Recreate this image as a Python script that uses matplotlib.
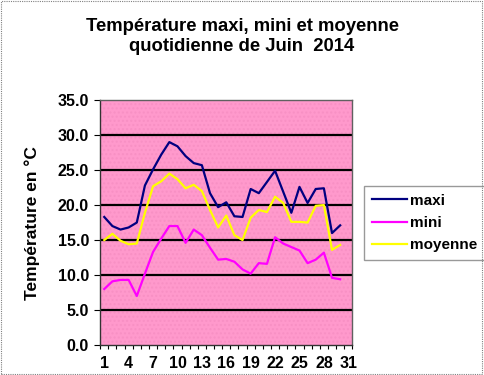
import matplotlib

matplotlib.use("Agg")
import matplotlib.pyplot as plt
from matplotlib.patches import Rectangle
from matplotlib.ticker import FixedLocator

plt.rcParams["font.family"] = ["Liberation Sans", "DejaVu Sans"]

# daily values, June 2014
days = list(range(1, 31))
maxi = [18.3, 17.0, 16.5, 16.8, 17.5, 22.8, 25.1, 27.2, 29.0, 28.4,
        27.0, 26.0, 25.7, 21.7, 19.7, 20.4, 18.4, 18.3, 22.3, 21.7,
        23.3, 24.9, 21.9, 18.9, 22.6, 20.3, 22.3, 22.4, 16.0, 17.1]
mini = [8.0, 9.1, 9.3, 9.3, 7.0, 10.2, 13.3, 15.2, 17.0, 17.0,
        14.6, 16.5, 15.7, 13.9, 12.2, 12.3, 11.9, 10.8, 10.2, 11.7,
        11.6, 15.4, 14.5, 14.0, 13.5, 11.7, 12.2, 13.2, 9.6, 9.4]
moyenne = [15.0, 15.9, 14.9, 14.4, 14.5, 18.9, 22.7, 23.4, 24.5, 23.7,
           22.4, 22.9, 22.0, 19.3, 16.8, 18.5, 15.7, 15.0, 18.2, 19.3,
           19.0, 21.2, 20.3, 17.6, 17.6, 17.5, 19.9, 20.0, 13.6, 14.3]
x_labels = list(range(1, 32, 3))
y_ticks = [0, 5, 10, 15, 20, 25, 30, 35]

fig = plt.figure(figsize=(4.84, 3.75), dpi=100)
ax = fig.add_axes([0.207, 0.08, 0.521, 0.653])
ax.set_facecolor("#FF99CC")
# very faint dotted texture of the plot area
ax.add_patch(Rectangle((0, 0), 1, 1, transform=ax.transAxes, fill=False,
                       hatch="....", edgecolor="#F890C4", lw=0, zorder=0.5))

# horizontal grid lines in black
for v in y_ticks[1:-1]:
    ax.axhline(v, color="black", lw=1.6, zorder=1)

ax.plot(days, maxi, color="#000080", lw=1.6, label="maxi", zorder=3)
ax.plot(days, mini, color="#FF00FF", lw=1.6, label="mini", zorder=3)
ax.plot(days, moyenne, color="#FFFF00", lw=1.6, label="moyenne", zorder=3)

ax.set_xlim(0.5, 31.5)
ax.set_ylim(0, 35)
ax.set_yticks(y_ticks)
ax.set_yticklabels([f"{v:.1f}" for v in y_ticks])
ax.set_xticks(x_labels)
ax.set_xticklabels([str(v) for v in x_labels])
ax.xaxis.set_minor_locator(FixedLocator([i + 0.5 for i in range(0, 32)]))
ax.tick_params(axis="x", which="major", length=0, pad=8)
ax.tick_params(axis="x", which="minor", length=3, width=0.8, direction="out")
ax.tick_params(axis="y", length=4, width=0.8, direction="out", pad=4)
for lab in ax.get_xticklabels() + ax.get_yticklabels():
    lab.set_fontweight("bold")
    lab.set_fontsize(11.5)

for side in ["left", "bottom"]:
    ax.spines[side].set_color("#333333")
    ax.spines[side].set_linewidth(1.0)
for side in ["top", "right"]:
    ax.spines[side].set_color("#606060")
    ax.spines[side].set_linewidth(1.0)

ax.set_ylabel("Température en °C", fontsize=12.5, fontweight="bold", labelpad=13)

fig.text(0.5, 0.902, "Température maxi, mini et moyenne\nquotidienne de Juin  2014",
         ha="center", va="center", fontsize=13.3, fontweight="bold", linespacing=1.2)

leg = ax.legend(loc="center left", bbox_to_anchor=(1.048, 0.498), frameon=True,
                fancybox=False, handlelength=2.3, handletextpad=0.2,
                borderpad=0.5, borderaxespad=0, labelspacing=0.55,
                prop={"weight": "bold", "size": 11})
leg.get_frame().set_edgecolor("#808080")
leg.get_frame().set_linewidth(1.0)

# dotted border around the whole chart
fig.patches.append(Rectangle((0.002, 0.003), 0.994, 0.994, transform=fig.transFigure,
                             fill=False, edgecolor="#808080", lw=0.8, ls=(0, (1, 1))))

fig.savefig("out.png", dpi=100)
